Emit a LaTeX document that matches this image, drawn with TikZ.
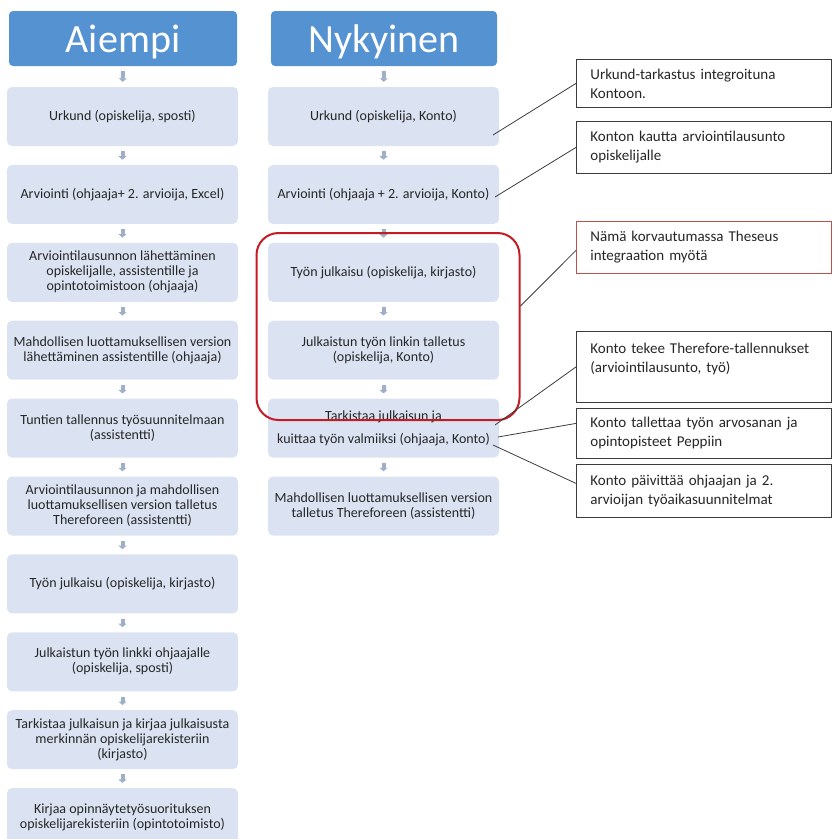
\documentclass[tikz,border=0pt]{standalone}
\usepackage{fontspec}
\setmainfont{Carlito}
\usetikzlibrary{positioning,arrows.meta}
\definecolor{headblue}{RGB}{84,146,210}
\definecolor{boxblue}{RGB}{219,227,242}
\definecolor{arrowgray}{RGB}{160,175,200}
\definecolor{framered}{RGB}{196,28,36}
\definecolor{notered}{RGB}{192,80,77}
\definecolor{linegray}{RGB}{60,60,60}
\definecolor{textgray}{RGB}{38,38,38}

\begin{document}
\begin{tikzpicture}[x=1pt, y=-1pt, node distance=18.5pt,
  head/.style={fill=headblue, rounded corners=4pt, minimum height=55pt, inner sep=0pt,
    text=white, text depth=0pt, font=\fontsize{40}{44}\selectfont},
  flowbox/.style={fill=boxblue, rounded corners=5pt, minimum width=231pt, minimum height=59pt,
    align=center, text=textgray, font=\fontsize{14}{15}\selectfont},
  flow/.style={arrowgray, line width=4pt, -{Triangle[width=8pt,length=3.5pt]},
    shorten <=5pt, shorten >=5pt},
  note/.style={draw=linegray, line width=0.8pt, minimum width=255pt, text width=227pt,
    inner xsep=14pt, align=left, anchor=north west, text=textgray,
    font=\fontsize{15}{19}\selectfont},
  link/.style={linegray, line width=0.8pt}]
\useasboundingbox (0,0) rectangle (833,839);

% headers
\node[head, minimum width=228pt] (hleft) at (123,38.5) {Aiempi};
\node[head, minimum width=226pt] (hright) at (384,38.5) {Nykyinen};

% old process
\node[flowbox] (a1) at (122.5,116.5) {Urkund (opiskelija, sposti)};
\node[flowbox, below=of a1] (a2) {Arviointi (ohjaaja+ 2. arvioija, Excel)};
\node[flowbox, below=of a2] (a3) {Arviointilausunnon lähettäminen\\opiskelijalle, assistentille ja\\opintotoimistoon (ohjaaja)};
\node[flowbox, below=of a3] (a4) {Mahdollisen luottamuksellisen version\\lähettäminen assistentille (ohjaaja)};
\node[flowbox, below=of a4] (a5) {Tuntien tallennus työsuunnitelmaan\\(assistentti)};
\node[flowbox, below=of a5] (a6) {Arviointilausunnon ja mahdollisen\\luottamuksellisen version talletus\\Thereforeen (assistentti)};
\node[flowbox, below=of a6] (a7) {Työn julkaisu (opiskelija, kirjasto)};
\node[flowbox, below=of a7] (a8) {Julkaistun työn linkki ohjaajalle\\(opiskelija, sposti)};
\node[flowbox, below=of a8] (a9) {Tarkistaa julkaisun ja kirjaa julkaisusta\\merkinnän opiskelijarekisteriin\\(kirjasto)};
\node[flowbox, below=of a9] (a10) {Kirjaa opinnäytetyösuorituksen\\opiskelijarekisteriin (opintotoimisto)};

% new process
\node[flowbox] (b1) at (383.5,116.5) {Urkund (opiskelija, Konto)};
\node[flowbox, below=of b1] (b2) {Arviointi (ohjaaja + 2. arvioija, Konto)};
\node[flowbox, below=of b2] (b3) {Työn julkaisu (opiskelija, kirjasto)};
\node[flowbox, below=of b3] (b4) {Julkaistun työn linkin talletus\\(opiskelija, Konto)};
\node[flowbox, below=of b4] (b5) {Tarkistaa julkaisun ja\\[8pt]kuittaa työn valmiiksi (ohjaaja, Konto)};
\node[flowbox, below=of b5] (b6) {Mahdollisen luottamuksellisen version\\talletus Thereforeen (assistentti)};

\draw[flow] (hleft) -- (a1);
\draw[flow] (hright) -- (b1);
\foreach \i [count=\j from 2] in {1,...,9}
  \draw[flow] (a\i) -- (a\j);
\foreach \i [count=\j from 2] in {1,...,5}
  \draw[flow] (b\i) -- (b\j);

% replaced steps
\node[draw=framered, line width=2pt, rounded corners=22pt, minimum width=263pt,
  minimum height=187pt] (theseus) at (388,326.5) {};

% notes
\node[note] (c1) at (576,59) [minimum height=48pt] {Urkund-tarkastus integroituna\\Kontoon.};
\node[note] (c2) at (576,121) [minimum height=52pt] {Konton kautta arviointilausunto\\opiskelijalle};
\node[note, draw=notered] (c3) at (576,221) [minimum height=52pt] {Nämä korvautumassa Theseus\\integraation myötä};
\node[note] (c4) at (576,331) [minimum height=71pt] {Konto tekee Therefore-tallennukset\\(arviointilausunto, työ)\\\mbox{}};
\node[note] (c5) at (576,408) [minimum height=50pt] {Konto tallettaa työn arvosanan ja\\opintopisteet Peppiin};
\node[note] (c6) at (576,464) [minimum height=53pt] {Konto päivittää ohjaajan ja 2.\\arvioijan työaikasuunnitelmat};

\coordinate (p1) at (493,135);
\coordinate (p2) at (495,197);
\coordinate (p4) at (495,425);
\coordinate (p5) at (498,437);
\coordinate (p6) at (493,445);
\draw[link] (p1) -- (c1.west);
\draw[link] (p2) -- (c2.west);
\draw[link] ([yshift=20.5pt]theseus.east) -- ([yshift=-3pt]c3.west);
\draw[link] (p4) -- (c4.west);
\draw[link] (p5) -- ([yshift=10pt]c5.west);
\draw[link] (p6) -- ([yshift=7.5pt]c6.west);
\end{tikzpicture}
\end{document}
